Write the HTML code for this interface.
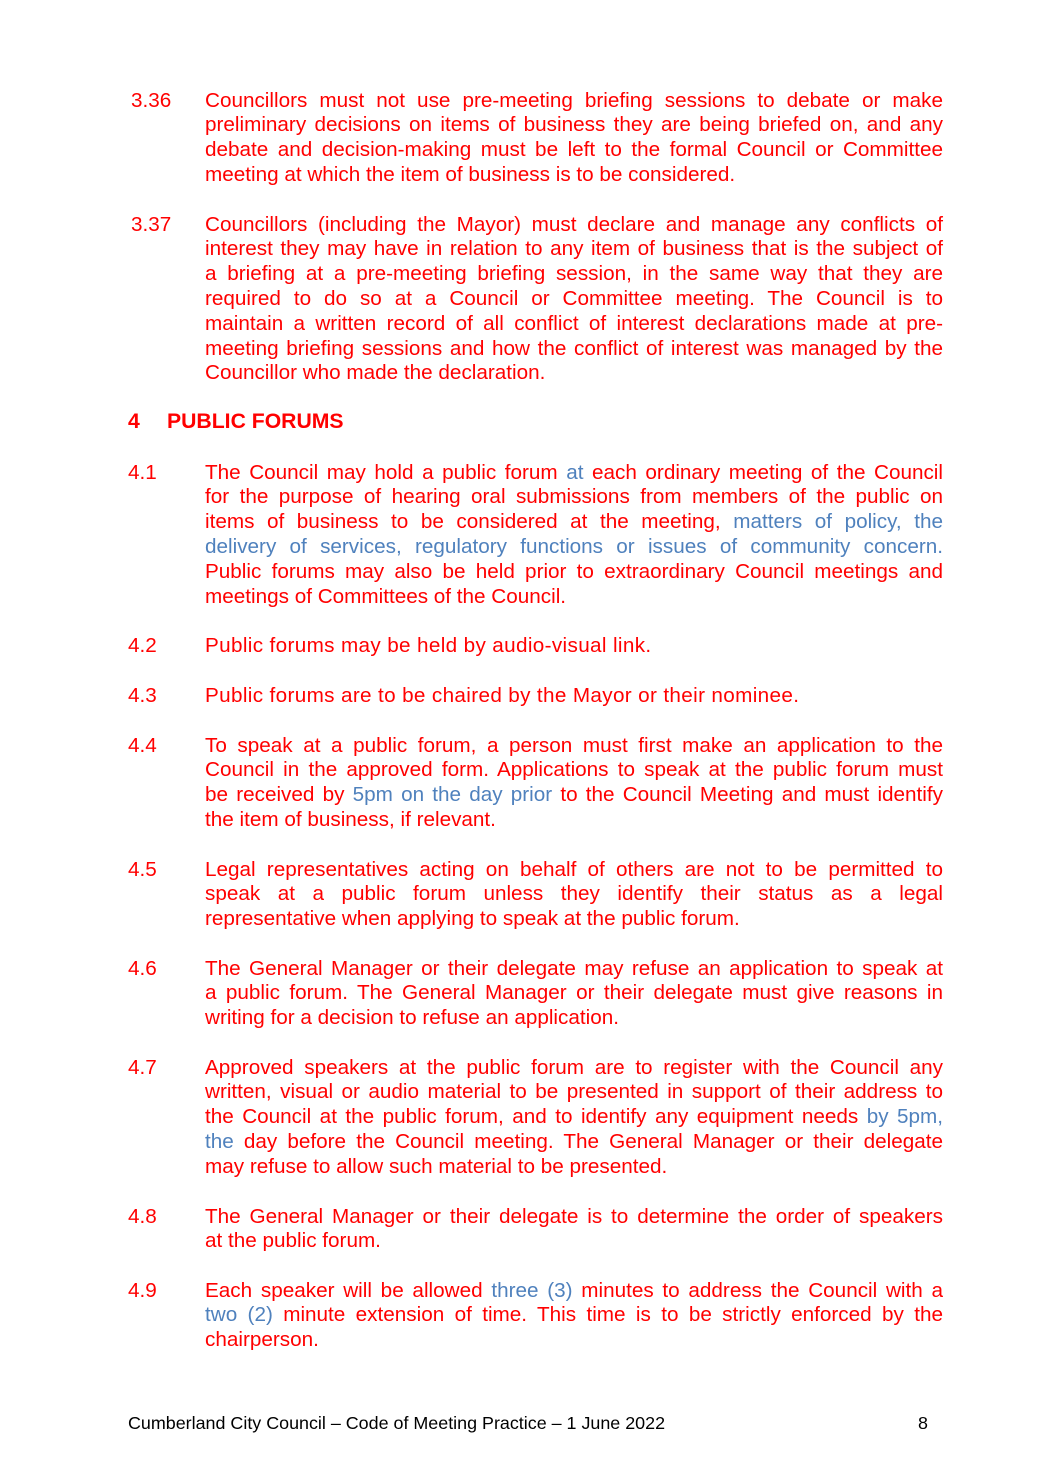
<!DOCTYPE html>
<html><head><meta charset="utf-8">
<style>
html,body{margin:0;padding:0;background:#fff;}
body{width:1041px;height:1484px;position:relative;overflow:hidden;font-family:"Liberation Sans",Arial,sans-serif;color:#f00;}
.p{position:absolute;left:205px;width:738px;font-size:20.7px;line-height:24.8px;}
.p div{white-space:nowrap;text-align:justify;text-align-last:justify;}
.p div.l{text-align:left;text-align-last:left;}
.n{position:absolute;left:130px;font-size:20.7px;line-height:24.8px;}
.b{color:#4f81bd;}
</style></head><body>

<div class="n" style="top:88.6px;left:131px">3.36</div>
<div class="p" style="top:88.6px">
<div>Councillors must not use pre-meeting briefing sessions to debate or make</div>
<div>preliminary decisions on items of business they are being briefed on, and any</div>
<div>debate and decision-making must be left to the formal Council or Committee</div>
<div class="l">meeting at which the item of business is to be considered.</div>
</div>

<div class="n" style="top:212.6px;left:131px">3.37</div>
<div class="p" style="top:212.6px">
<div>Councillors (including the Mayor) must declare and manage any conflicts of</div>
<div>interest they may have in relation to any item of business that is the subject of</div>
<div>a briefing at a pre-meeting briefing session, in the same way that they are</div>
<div>required to do so at a Council or Committee meeting. The Council is to</div>
<div>maintain a written record of all conflict of interest declarations made at pre-</div>
<div>meeting briefing sessions and how the conflict of interest was managed by the</div>
<div class="l">Councillor who made the declaration.</div>
</div>

<div class="n" style="top:409.6px;left:128px;font-weight:bold;font-size:21.2px">4</div>
<div class="n" style="top:409.6px;left:167px;font-weight:bold;font-size:21.2px">PUBLIC FORUMS</div>

<div class="n" style="top:460.6px;left:128px">4.1</div>
<div class="p" style="top:460.6px">
<div>The Council may hold a public forum <span class="b">at</span> each ordinary meeting of the Council</div>
<div>for the purpose of hearing oral submissions from members of the public on</div>
<div>items of business to be considered at the meeting, <span class="b">matters of policy, the</span></div>
<div><span class="b">delivery of services, regulatory functions or issues of community concern.</span></div>
<div>Public forums may also be held prior to extraordinary Council meetings and</div>
<div class="l">meetings of Committees of the Council.</div>
</div>

<div class="n" style="top:633.6px;left:128px">4.2</div>
<div class="p" style="top:633.6px"><div class="l" style="letter-spacing:0.35px">Public forums may be held by audio-visual link.</div></div>

<div class="n" style="top:683.6px;left:128px">4.3</div>
<div class="p" style="top:683.6px"><div class="l" style="letter-spacing:0.35px">Public forums are to be chaired by the Mayor or their nominee.</div></div>

<div class="n" style="top:733.6px;left:128px">4.4</div>
<div class="p" style="top:733.6px">
<div>To speak at a public forum, a person must first make an application to the</div>
<div>Council in the approved form. Applications to speak at the public forum must</div>
<div>be received by <span class="b">5pm on the day prior</span> to the Council Meeting and must identify</div>
<div class="l">the item of business, if relevant.</div>
</div>

<div class="n" style="top:857.6px;left:128px">4.5</div>
<div class="p" style="top:857.6px">
<div>Legal representatives acting on behalf of others are not to be permitted to</div>
<div>speak at a public forum unless they identify their status as a legal</div>
<div class="l">representative when applying to speak at the public forum.</div>
</div>

<div class="n" style="top:956.6px;left:128px">4.6</div>
<div class="p" style="top:956.6px">
<div>The General Manager or their delegate may refuse an application to speak at</div>
<div>a public forum. The General Manager or their delegate must give reasons in</div>
<div class="l">writing for a decision to refuse an application.</div>
</div>

<div class="n" style="top:1055.6px;left:128px">4.7</div>
<div class="p" style="top:1055.6px">
<div>Approved speakers at the public forum are to register with the Council any</div>
<div>written, visual or audio material to be presented in support of their address to</div>
<div>the Council at the public forum, and to identify any equipment needs <span class="b">by 5pm,</span></div>
<div><span class="b">the</span> day before the Council meeting. The General Manager or their delegate</div>
<div class="l">may refuse to allow such material to be presented.</div>
</div>

<div class="n" style="top:1204.6px;left:128px">4.8</div>
<div class="p" style="top:1204.6px">
<div>The General Manager or their delegate is to determine the order of speakers</div>
<div class="l">at the public forum.</div>
</div>

<div class="n" style="top:1278.6px;left:128px">4.9</div>
<div class="p" style="top:1278.6px">
<div>Each speaker will be allowed <span class="b">three (3)</span> minutes to address the Council with a</div>
<div><span class="b">two (2)</span> minute extension of time. This time is to be strictly enforced by the</div>
<div class="l">chairperson.</div>
</div>

<div style="position:absolute;left:128px;top:1413px;font-size:17.9px;line-height:20px;color:#000;white-space:nowrap">Cumberland City Council – Code of Meeting Practice – 1 June 2022</div>
<div style="position:absolute;left:918px;top:1413px;font-size:17.9px;line-height:20px;color:#000">8</div>
</body></html>
